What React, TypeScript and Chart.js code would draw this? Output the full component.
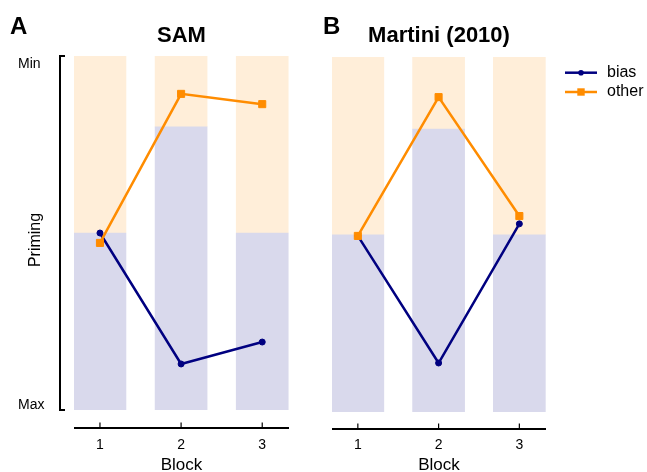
import React, { useEffect, useRef } from 'react';
import { Chart, registerables } from 'chart.js';

Chart.register(...registerables);

// ---------- data ----------
const blocks = [1, 2, 3];
const seriesNames = ['bias', 'other'];
const yTickValues = [0.013, 0.976];
const yTickLabels = ['Max', 'Min'];
const yTitle = 'Priming';
const xTitle = 'Block';

// Panel A – SAM
const samBiasLevel = [0.5, 0.8, 0.5];
const samBias = [0.5, 0.13, 0.192];
const samOther = [0.472, 0.893, 0.864];

// Panel B – Martini (2010)
const martiniBiasLevel = [0.499, 0.797, 0.499];
const martiniBias = [0.496, 0.138, 0.53];
const martiniOther = [0.496, 0.887, 0.552];

// ---------- styles ----------
const FONT = '"Liberation Sans", Arial, Helvetica, sans-serif';
const NAVY = '#000080';
const ORANGE = '#FF8C00';
const LAVENDER = '#D9D9EC';
const PEACH = '#FFEED9';

Chart.defaults.font.family = FONT;
Chart.defaults.color = '#000';

function makeDatasets(level: number[], bias: number[], other: number[]) {
  return [
    {
      type: 'line' as const,
      label: seriesNames[1],
      data: blocks.map((b, i) => ({ x: b, y: other[i] })),
      borderColor: ORANGE,
      backgroundColor: ORANGE,
      borderWidth: 2.5,
      pointStyle: 'rect',
      pointRadius: 5,
      pointBorderWidth: 1,
      order: 0,
    },
    {
      type: 'line' as const,
      label: seriesNames[0],
      data: blocks.map((b, i) => ({ x: b, y: bias[i] })),
      borderColor: NAVY,
      backgroundColor: NAVY,
      borderWidth: 2.5,
      pointStyle: 'circle',
      pointRadius: 3,
      pointBorderWidth: 1,
      order: 1,
    },
    {
      type: 'bar' as const,
      label: 'bias level',
      data: blocks.map((b, i) => ({ x: b, y: [0, level[i]] })),
      backgroundColor: LAVENDER,
      barThickness: 52,
      grouped: false,
      order: 2,
    },
    {
      type: 'bar' as const,
      label: 'other level',
      data: blocks.map((b, i) => ({ x: b, y: [level[i], 1] })),
      backgroundColor: PEACH,
      barThickness: 52,
      grouped: false,
      order: 3,
    },
  ];
}

function drawXAxis(chart: any, offset: number) {
  const { ctx, chartArea, scales } = chart;
  const x = scales.x;
  const ay = chartArea.bottom + offset;
  ctx.save();
  ctx.strokeStyle = '#000';
  ctx.lineWidth = 2;
  ctx.beginPath();
  ctx.moveTo(chartArea.left, ay);
  ctx.lineTo(chartArea.right, ay);
  ctx.stroke();
  ctx.lineWidth = 1.2;
  blocks.forEach((b) => {
    const px = x.getPixelForValue(b);
    ctx.beginPath();
    ctx.moveTo(px, ay);
    ctx.lineTo(px, ay - 5.5);
    ctx.stroke();
  });
  ctx.restore();
}

function drawLetter(chart: any, letter: string, lx: number) {
  const { ctx } = chart;
  ctx.save();
  ctx.fillStyle = '#000';
  ctx.font = `bold 24px ${FONT}`;
  ctx.textBaseline = 'alphabetic';
  ctx.textAlign = 'left';
  ctx.fillText(letter, lx, 34);
  ctx.restore();
}

const panelAPlugin = {
  id: 'panelA',
  afterDraw(chart: any) {
    const { ctx, chartArea, scales } = chart;
    const y = scales.y;
    drawLetter(chart, 'A', 10);
    const yTop = y.getPixelForValue(1);
    const yBot = y.getPixelForValue(0);
    const ax = chartArea.left - 14;
    ctx.save();
    ctx.strokeStyle = '#000';
    ctx.lineWidth = 2;
    ctx.beginPath();
    ctx.moveTo(ax + 5, yTop);
    ctx.lineTo(ax, yTop);
    ctx.lineTo(ax, yBot);
    ctx.lineTo(ax + 5, yBot);
    ctx.stroke();
    // y-axis title
    ctx.translate(36, 240);
    ctx.rotate(-Math.PI / 2);
    ctx.fillStyle = '#000';
    ctx.font = `16px ${FONT}`;
    ctx.textAlign = 'center';
    ctx.textBaseline = 'middle';
    ctx.fillText(yTitle, 0, 0);
    ctx.restore();
    drawXAxis(chart, 18);
  },
};

const panelBPlugin = {
  id: 'panelB',
  afterDraw(chart: any) {
    const { ctx, chartArea } = chart;
    drawLetter(chart, 'B', 13);
    drawXAxis(chart, 17);
    // legend
    const rows = [
      { idx: 1, y: 72.7 },
      { idx: 0, y: 92 },
    ];
    const lx0 = chartArea.right + 19;
    const lx1 = lx0 + 32;
    ctx.save();
    rows.forEach((r) => {
      const ds: any = chart.data.datasets[r.idx];
      ctx.strokeStyle = ds.borderColor;
      ctx.fillStyle = ds.borderColor;
      ctx.lineWidth = 2.5;
      ctx.beginPath();
      ctx.moveTo(lx0, r.y);
      ctx.lineTo(lx1, r.y);
      ctx.stroke();
      const cx = (lx0 + lx1) / 2;
      if (ds.pointStyle === 'rect') {
        ctx.fillRect(cx - 3.7, r.y - 3.7, 7.4, 7.4);
      } else {
        ctx.beginPath();
        ctx.arc(cx, r.y, 2.8, 0, Math.PI * 2);
        ctx.fill();
      }
      ctx.fillStyle = '#000';
      ctx.font = `16px ${FONT}`;
      ctx.textBaseline = 'middle';
      ctx.textAlign = 'left';
      ctx.fillText(ds.label, lx1 + 10, r.y);
    });
    ctx.restore();
  },
};

function makeConfig(
  title: string,
  level: number[],
  bias: number[],
  other: number[],
  opts: {
    padLeft: number;
    padRight: number;
    areaTop: number;
    xHeight: number;
    tickPad: number;
    showY: boolean;
    plugin: any;
  }
): any {
  const titleLineHeight = 22 * 1.2;
  const titleTop = 36 - titleLineHeight / 2;
  return {
    type: 'bar',
    data: { datasets: makeDatasets(level, bias, other) },
    plugins: [opts.plugin],
    options: {
      animation: false,
      responsive: false,
      maintainAspectRatio: false,
      events: [],
      layout: { padding: { left: opts.padLeft, right: opts.padRight, top: 0, bottom: 0 } },
      plugins: {
        legend: { display: false },
        tooltip: { enabled: false },
        title: {
          display: true,
          text: title,
          fullSize: false,
          color: '#000',
          font: { size: 22, weight: 'bold', family: FONT, lineHeight: 1.2 },
          padding: { top: titleTop, bottom: opts.areaTop - titleTop - titleLineHeight },
        },
      },
      scales: {
        x: {
          type: 'linear',
          offset: false,
          min: 0.68,
          max: 3.33,
          afterBuildTicks: (s: any) => {
            s.ticks = blocks.map((v) => ({ value: v }));
          },
          afterFit: (s: any) => {
            s.height = opts.xHeight;
          },
          grid: { display: false, drawTicks: false },
          border: { display: false },
          ticks: {
            padding: opts.tickPad,
            font: { size: 14 },
            color: '#000',
            maxRotation: 0,
            autoSkip: false,
            callback: (v: any) => String(v),
          },
          title: {
            display: true,
            text: xTitle,
            color: '#000',
            font: { size: 17, lineHeight: 0.8 },
            padding: 0,
          },
        },
        y: {
          type: 'linear',
          display: opts.showY,
          min: 0,
          max: 1,
          afterBuildTicks: (s: any) => {
            s.ticks = yTickValues.map((v) => ({ value: v }));
          },
          afterFit: (s: any) => {
            s.width = opts.showY ? 56 : 0;
          },
          grid: { display: false, drawTicks: false },
          border: { display: false },
          ticks: {
            crossAlign: 'far',
            font: { size: 14 },
            color: '#000',
            autoSkip: false,
            callback: (_v: any, i: number) => yTickLabels[i],
          },
        },
      },
    },
  };
}

export default function App() {
  const refA = useRef<HTMLCanvasElement>(null);
  const refB = useRef<HTMLCanvasElement>(null);

  useEffect(() => {
    const a = new Chart(
      refA.current as HTMLCanvasElement,
      makeConfig('SAM', samBiasLevel, samBias, samOther, {
        padLeft: 18,
        padRight: 21,
        areaTop: 56,
        xHeight: 62,
        tickPad: 27,
        showY: true,
        plugin: panelAPlugin,
      })
    );
    const b = new Chart(
      refB.current as HTMLCanvasElement,
      makeConfig('Martini (2010)', martiniBiasLevel, martiniBias, martiniOther, {
        padLeft: 22,
        padRight: 101,
        areaTop: 57,
        xHeight: 60,
        tickPad: 25,
        showY: false,
        plugin: panelBPlugin,
      })
    );
    return () => {
      a.destroy();
      b.destroy();
    };
  }, []);

  return (
    <div
      style={{
        position: 'fixed',
        left: 0,
        top: 0,
        width: 647,
        height: 472,
        background: '#fff',
        overflow: 'hidden',
      }}
    >
      <canvas
        ref={refA}
        width={310}
        height={472}
        style={{ position: 'absolute', left: 0, top: 0, width: 310, height: 472 }}
      />
      <canvas
        ref={refB}
        width={337}
        height={472}
        style={{ position: 'absolute', left: 310, top: 0, width: 337, height: 472 }}
      />
    </div>
  );
}
